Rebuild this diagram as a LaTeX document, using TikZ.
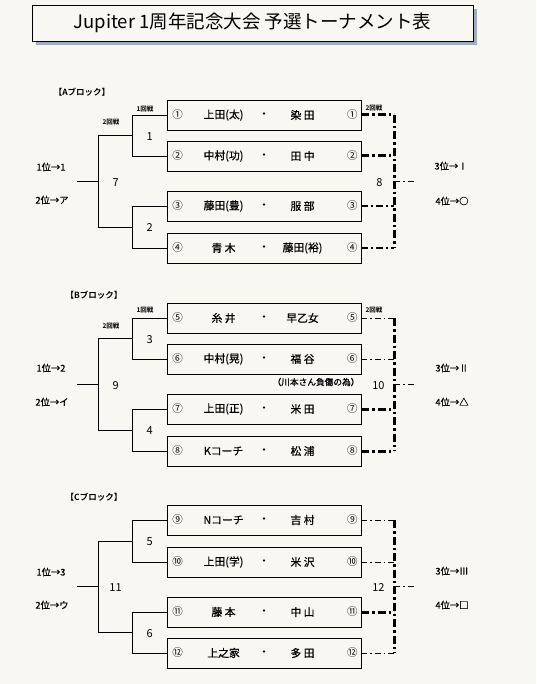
\documentclass[tikz,border=0pt]{standalone}
\usepackage{fontspec}
\setmainfont{Noto Sans CJK JP}[BoldFont={Noto Sans CJK JP Bold}]
\newfontfamily\midfont{Noto Sans CJK JP}[FakeBold=0.6]
\usetikzlibrary{positioning, calc, shadows}
\definecolor{paper}{HTML}{F8F7F1}
\definecolor{shadeblue}{HTML}{A3ADBF}

\tikzset{
  matchbox/.style={draw, line width=0.9pt, fill=paper,
                   minimum width=194pt, minimum height=30pt, inner sep=0pt},
  nametext/.style={font=\midfont\fontsize{10.8}{12}\selectfont, inner sep=0pt},
  seedtext/.style={font=\fontsize{10.5}{11}\selectfont, inner sep=0pt},
  roundno/.style={font=\fontsize{11}{12}\selectfont, inner sep=0pt},
  ranktext/.style={font=\midfont\fontsize{9.3}{10}\selectfont, inner sep=0pt},
  roundtag/.style={font=\bfseries\fontsize{6.5}{7}\selectfont, inner sep=0pt},
  blocktag/.style={font=\bfseries\fontsize{8.5}{9}\selectfont, inner sep=0pt},
  bracket/.style={line width=0.9pt},
  ddthin/.style={line width=0.8pt, dash pattern=on 6pt off 3pt on 1.5pt off 3pt},
  ddmid/.style={line width=2pt, dash pattern=on 7pt off 3pt on 2pt off 3pt},
  ddthick/.style={line width=3pt, dash pattern=on 8pt off 3pt on 2.5pt off 3pt},
}

% one match row: name, y, seed, left player, right player
\newcommand{\matchrow}[5]{%
  \node[matchbox] (#1) at (264,#2) {};
  \node[seedtext] (#1sl) at ($(#1.west)+(11,0)$) {#3};
  \node[nametext] (#1nl) at ($(#1.west)+(57,0)$) {#4};
  \node[nametext] (#1dot) at (#1.center) {・};
  \node[nametext] (#1nr) at ($(#1.west)+(136,0)$) {#5};
  \node[seedtext] (#1sr) at ($(#1.east)+(-9,0)$) {#3};
}

\begin{document}
\begin{tikzpicture}[x=1pt, y=-1pt]
  \fill[paper] (0,0) rectangle (536,684);
  \useasboundingbox (0,0) rectangle (536,684);

  % title
  \node[draw, line width=0.9pt, fill=paper, minimum width=441pt, minimum height=36pt,
        drop shadow={shadow xshift=4pt, shadow yshift=-4pt, fill=shadeblue, opacity=1},
        font=\fontsize{18.5}{20}\selectfont] (title) at (252.5,23)
        {Jupiter 1周年記念大会 予選トーナメント表};

  % ---- A block ----
  \node[blocktag] (tagA) at (82,92) {【Aブロック】};
  \matchrow{m1}{115}{①}{上田(太)}{染 田}
  \matchrow{m2}{156}{②}{中村(功)}{田 中}
  \matchrow{m3}{206}{③}{藤田(豊)}{服 部}
  \matchrow{m4}{248}{④}{青 木}{藤田(裕)}

  \draw[bracket] (m1.west) -- ++(-34,0) |- (m2.west);
  \draw[bracket] (m3.west) -- ++(-34,0) |- (m4.west);
  \coordinate (q1) at ($(m1.west)!0.5!(m2.west)+(-34,0)$);
  \coordinate (q2) at ($(m3.west)!0.5!(m4.west)+(-34,0)$);
  \draw[bracket] (q1) -- ++(-34,0) |- (q2);
  \coordinate (w7) at ($(q1)!0.5!(q2)+(-34,0)$);
  \draw[bracket] (w7) -- ++(-22,0);

  \node[roundno] (r1) at ($(q1)+(17,1)$) {1};
  \node[roundno] (r2) at ($(q2)+(17,1)$) {2};
  \node[roundno] (r7) at ($(w7)+(17,1)$) {7};
  \node[roundtag] (a1st) at (145,109) {1回戦};
  \node[roundtag] (a2nd) at (111,122) {2回戦};
  \node[ranktext] (a1pl) at (51,167) {1位→1};
  \node[ranktext] (a2pl) at (52,200) {2位→ア};

  \draw[ddthick] (m1.east) -- ++(33,0) coordinate (t1);
  \draw[ddthick] (m2.east) -- ++(33,0) coordinate (t2);
  \draw[ddmid] (m3.east) -- ++(33,0) coordinate (t3);
  \draw[ddmid] (m4.east) -- ++(33,0) coordinate (t4);
  \draw[ddthick] (t1) -- (t4);
  \coordinate (s8) at ($(t1)!0.5!(t4)$);
  \draw[ddthin] (s8) -- ++(22,0);
  \node[roundno] (r8) at ($(s8)+(-15,1)$) {8};
  \node[roundtag] (a2r) at (374,108) {2回戦};
  \node[ranktext] (a3pl) at (451,166) {3位→Ⅰ};
  \node[ranktext] (a4pl) at (452,201) {4位→○};

  % ---- B block ----
  \node[blocktag] (tagB) at (94,295) {【Bブロック】};
  \matchrow{m5}{318}{⑤}{糸 井}{早乙女}
  \matchrow{m6}{359}{⑥}{中村(晃)}{福 谷}
  \matchrow{m7}{409}{⑦}{上田(正)}{米 田}
  \matchrow{m8}{451}{⑧}{Kコーチ}{松 浦}
  \node[ranktext, font=\midfont\fontsize{8.7}{9}\selectfont] (note6) at (316,382) {（川本さん負傷の為）};

  \draw[bracket] (m5.west) -- ++(-34,0) |- (m6.west);
  \draw[bracket] (m7.west) -- ++(-34,0) |- (m8.west);
  \coordinate (q3) at ($(m5.west)!0.5!(m6.west)+(-34,0)$);
  \coordinate (q4) at ($(m7.west)!0.5!(m8.west)+(-34,0)$);
  \draw[bracket] (q3) -- ++(-34,0) |- (q4);
  \coordinate (w9) at ($(q3)!0.5!(q4)+(-34,0)$);
  \draw[bracket] (w9) -- ++(-22,0);

  \node[roundno] (r3) at ($(q3)+(17,1)$) {3};
  \node[roundno] (r4) at ($(q4)+(17,1)$) {4};
  \node[roundno] (r9) at ($(w9)+(17,1)$) {9};
  \node[roundtag] (b1st) at (145,310) {1回戦};
  \node[roundtag] (b2nd) at (111,326) {2回戦};
  \node[ranktext] (b1pl) at (51,368) {1位→2};
  \node[ranktext] (b2pl) at (52,402) {2位→イ};

  \draw[ddthin] (m5.east) -- ++(33,0) coordinate (t5);
  \draw[ddthin] (m6.east) -- ++(33,0) coordinate (t6);
  \draw[ddthick] (m7.east) -- ++(33,0) coordinate (t7);
  \draw[ddthick] (m8.east) -- ++(33,0) coordinate (t8);
  \draw[ddthick] (t5) -- (t8);
  \coordinate (s10) at ($(t5)!0.5!(t8)$);
  \draw[ddthin] (s10) -- ++(22,0);
  \node[roundno] (r10) at ($(s10)+(-16,1)$) {10};
  \node[roundtag] (b2r) at (374,310) {2回戦};
  \node[ranktext] (b3pl) at (452,368) {3位→Ⅱ};
  \node[ranktext] (b4pl) at (452,402) {4位→△};

  % ---- C block ----
  \node[blocktag] (tagC) at (94,497) {【Cブロック】};
  \matchrow{m9}{520}{⑨}{Nコーチ}{吉 村}
  \matchrow{m10}{562}{⑩}{上田(学)}{米 沢}
  \matchrow{m11}{612}{⑪}{藤 本}{中 山}
  \matchrow{m12}{653}{⑫}{上之家}{多 田}

  \draw[bracket] (m9.west) -- ++(-34,0) |- (m10.west);
  \draw[bracket] (m11.west) -- ++(-34,0) |- (m12.west);
  \coordinate (q5) at ($(m9.west)!0.5!(m10.west)+(-34,0)$);
  \coordinate (q6) at ($(m11.west)!0.5!(m12.west)+(-34,0)$);
  \draw[bracket] (q5) -- ++(-34,0) |- (q6);
  \coordinate (w11) at ($(q5)!0.5!(q6)+(-34,0)$);
  \draw[bracket] (w11) -- ++(-22,0);

  \node[roundno] (r5) at ($(q5)+(17,1)$) {5};
  \node[roundno] (r6) at ($(q6)+(17,1)$) {6};
  \node[roundno] (r11) at ($(w11)+(17,1)$) {11};
  \node[ranktext] (c1pl) at (51,572) {1位→3};
  \node[ranktext] (c2pl) at (52,605) {2位→ウ};

  \draw[ddthin] (m9.east) -- ++(33,0) coordinate (t9);
  \draw[ddthin] (m10.east) -- ++(33,0) coordinate (t10);
  \draw[ddthick] (m11.east) -- ++(33,0) coordinate (t11);
  \draw[ddthin] (m12.east) -- ++(33,0) coordinate (t12);
  \draw[ddthick] (t9) -- (t12);
  \coordinate (s12) at ($(t9)!0.5!(t12)$);
  \draw[ddthin] (s12) -- ++(22,0);
  \node[roundno] (r12) at ($(s12)+(-16,1)$) {12};
  \node[ranktext] (c3pl) at (452,571) {3位→Ⅲ};
  \node[ranktext] (c4pl) at (452,605) {4位→□};
\end{tikzpicture}
\end{document}
